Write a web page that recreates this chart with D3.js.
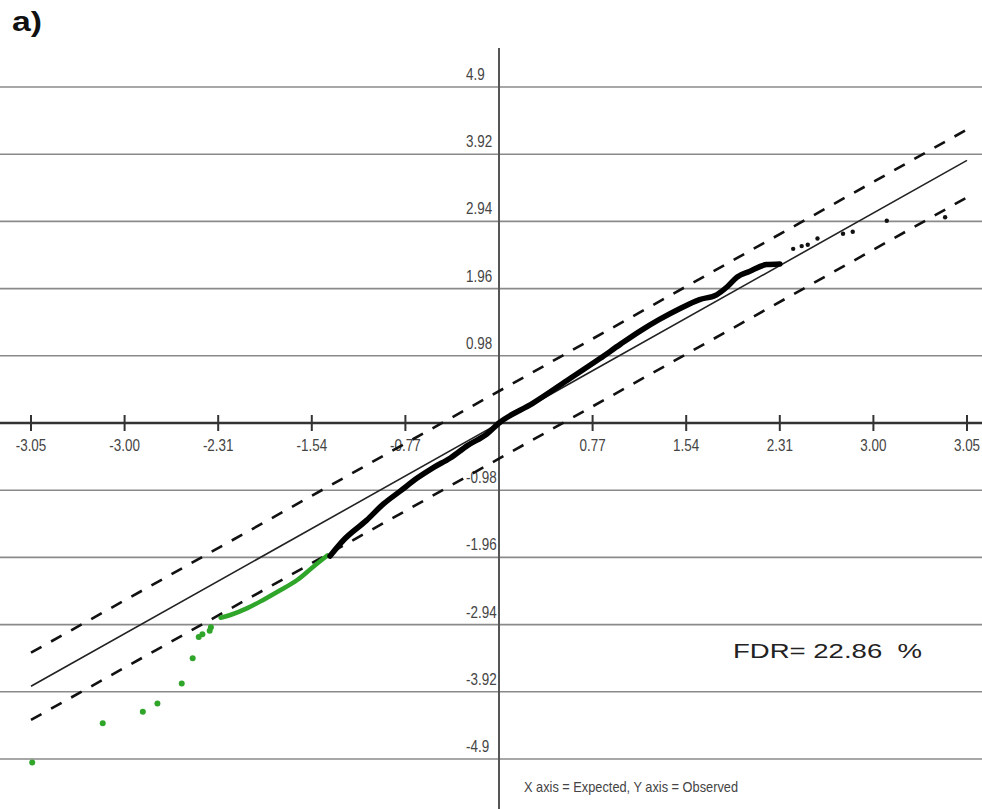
<!DOCTYPE html>
<html>
<head>
<meta charset="utf-8">
<script src="https://cdn.jsdelivr.net/npm/d3@7"></script>
<style>
    body { margin: 0; background: #fff; }
    #qq-plot text { font-family: "Liberation Sans", Arial, sans-serif; }
</style>
</head>
<body>
<div id="qq-plot"></div>
<script>
//#region Data
// tick positions (expected / observed units) and the labels printed on them
const xTickVals = [-3.85, -3.08, -2.31, -1.54, -0.77, 0.77, 1.54, 2.31, 3.08, 3.85];
const xTickLabels = ["-3.05", "-3.00", "-2.31", "-1.54", "-0.77", "0.77", "1.54", "2.31", "3.00", "3.05"];
const yTickVals = [4.9, 3.92, 2.94, 1.96, 0.98, -0.98, -1.96, -2.94, -3.92, -4.9];
const yTickLabels = ["4.9", "3.92", "2.94", "1.96", "0.98", "-0.98", "-1.96", "-2.94", "-3.92", "-4.9"];

// reference line y = x and the two band limits
const diagLine = [[-3.85, -3.84], [3.85, 3.83]];
const upperBand = [[-3.85, -3.35], [3.85, 4.28]];
const lowerBand = [[-3.85, -4.33], [3.85, 3.29]];

// observed points, dense part
const blackDense = [
    [-1.39, -1.94], [-1.28, -1.71], [-1.09, -1.42], [-0.95, -1.18], [-0.81, -0.99],
    [-0.67, -0.80], [-0.54, -0.65], [-0.40, -0.51], [-0.26, -0.33], [-0.10, -0.16],
    [0, 0], [0.28, 0.29], [0.56, 0.62], [0.83, 0.94], [1.00, 1.15], [1.16, 1.34],
    [1.32, 1.51], [1.49, 1.67], [1.65, 1.80], [1.79, 1.87], [1.88, 1.99], [1.96, 2.13],
    [2.06, 2.21], [2.20, 2.31], [2.31, 2.32]
];
const blackSparse = [
    [2.42, 2.54], [2.49, 2.58], [2.54, 2.60], [2.62, 2.69], [2.83, 2.76],
    [2.91, 2.79], [3.19, 2.95], [3.67, 3.00]
];
const greenDense = [
    [-1.41, -1.93], [-1.53, -2.10], [-1.66, -2.29], [-1.80, -2.44], [-1.94, -2.58],
    [-2.07, -2.70], [-2.21, -2.80], [-2.29, -2.84]
];
const greenSparse = [
    [-2.37, -2.98], [-2.38, -3.03], [-2.44, -3.08], [-2.47, -3.12], [-2.52, -3.43],
    [-2.61, -3.80], [-2.81, -4.09], [-2.93, -4.21], [-3.26, -4.38], [-3.84, -4.95]
];

const fdrText = "FDR= 22.86  %";
const axisNote = "X axis = Expected, Y axis = Observed";
//#endregion

document.addEventListener("DOMContentLoaded", function () {
    drawPlot();
});

function drawPlot() {
    const width = 982;
    const height = 809;
    const narrow = 0.84; // horizontal squeeze for the narrow tick font

    const svg = d3.select("#qq-plot")
        .append("svg")
        .attr("width", width)
        .attr("height", height)
        .style("background", "#fff");

    const x = d3.scaleLinear().domain([-3.85, 3.85]).range([31, 967]);
    const y = d3.scaleLinear().domain([-4.9, 4.9]).range([759, 87]);

    // grid lines
    svg.append("g")
        .selectAll("line")
        .data(yTickVals)
        .enter()
        .append("line")
        .attr("x1", 0)
        .attr("x2", width)
        .attr("y1", d => y(d))
        .attr("y2", d => y(d))
        .attr("stroke", "#8a8a8a")
        .attr("stroke-width", 1.6);

    // y tick labels, left aligned next to the vertical axis
    svg.append("g")
        .selectAll("text")
        .data(yTickVals)
        .enter()
        .append("text")
        .attr("transform", d => `translate(466,${y(d) - 7}) scale(${narrow},1)`)
        .attr("font-size", 16)
        .attr("fill", "#444")
        .text((d, i) => yTickLabels[i]);

    // x axis through zero
    svg.append("line")
        .attr("x1", 0)
        .attr("x2", width)
        .attr("y1", y(0))
        .attr("y2", y(0))
        .attr("stroke", "#333")
        .attr("stroke-width", 2.4);

    // y axis
    svg.append("line")
        .attr("x1", x(0))
        .attr("x2", x(0))
        .attr("y1", 48)
        .attr("y2", height)
        .attr("stroke", "#555")
        .attr("stroke-width", 2);

    const xTicks = svg.append("g")
        .selectAll("g")
        .data(xTickVals)
        .enter()
        .append("g")
        .attr("transform", d => `translate(${x(d)},${y(0)})`);

    xTicks.append("line")
        .attr("y1", -8)
        .attr("y2", 8)
        .attr("stroke", "#333")
        .attr("stroke-width", 2);

    xTicks.append("text")
        .attr("transform", `translate(0,28) scale(${narrow},1)`)
        .attr("text-anchor", "middle")
        .attr("font-size", 16)
        .attr("fill", "#444")
        .text((d, i) => xTickLabels[i]);

    const line = d3.line()
        .x(d => x(d[0]))
        .y(d => y(d[1]));

    // reference line and band
    svg.append("path")
        .attr("d", line(diagLine))
        .attr("fill", "none")
        .attr("stroke", "#222")
        .attr("stroke-width", 1.6);

    [upperBand, lowerBand].forEach(band => {
        svg.append("path")
            .attr("d", line(band))
            .attr("fill", "none")
            .attr("stroke", "#111")
            .attr("stroke-width", 2.6)
            .attr("stroke-dasharray", "12,11");
    });

    // observed points
    const green = "#2fa52a";

    svg.append("path")
        .attr("d", line.curve(d3.curveMonotoneX)(greenDense))
        .attr("fill", "none")
        .attr("stroke", green)
        .attr("stroke-width", 4.5)
        .attr("stroke-linecap", "round");

    svg.append("path")
        .attr("d", line.curve(d3.curveMonotoneX)(blackDense))
        .attr("fill", "none")
        .attr("stroke", "#000")
        .attr("stroke-width", 5.5)
        .attr("stroke-linecap", "round");

    svg.append("g")
        .selectAll("circle")
        .data(greenSparse)
        .enter()
        .append("circle")
        .attr("cx", d => x(d[0]))
        .attr("cy", d => y(d[1]))
        .attr("r", 3)
        .attr("fill", green);

    svg.append("g")
        .selectAll("circle")
        .data(blackSparse)
        .enter()
        .append("circle")
        .attr("cx", d => x(d[0]))
        .attr("cy", d => y(d[1]))
        .attr("r", 2.2)
        .attr("fill", "#111");

    // annotations
    svg.append("text")
        .attr("x", 12)
        .attr("y", 31)
        .attr("font-size", 27)
        .attr("font-weight", "bold")
        .attr("fill", "#111")
        .attr("textLength", 30)
        .attr("lengthAdjust", "spacingAndGlyphs")
        .text("a)");

    svg.append("text")
        .attr("x", 733)
        .attr("y", 658)
        .attr("font-size", 21)
        .attr("fill", "#222")
        .attr("textLength", 189)
        .attr("lengthAdjust", "spacingAndGlyphs")
        .style("white-space", "pre")
        .text(fdrText);

    svg.append("text")
        .attr("x", 524)
        .attr("y", 792)
        .attr("font-size", 15)
        .attr("fill", "#444")
        .attr("textLength", 214)
        .attr("lengthAdjust", "spacingAndGlyphs")
        .text(axisNote);
}
</script>
</body>
</html>
